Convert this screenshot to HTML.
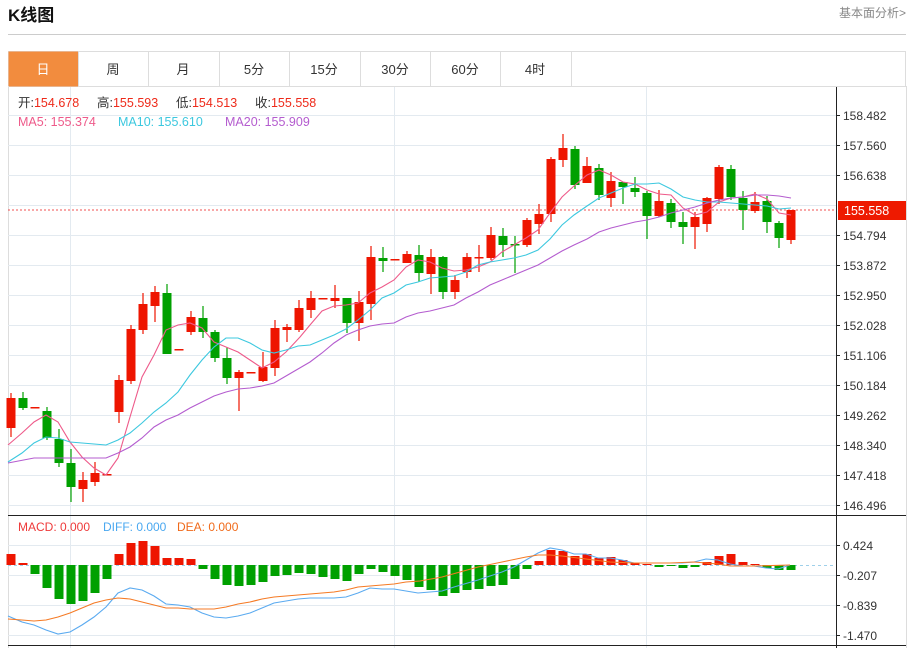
<!DOCTYPE html>
<html><head><meta charset="utf-8"><style>
body{margin:0;background:#fff;width:912px;height:648px;overflow:hidden;font-family:"Liberation Sans","Noto Sans CJK SC",sans-serif}
</style></head><body>
<svg width="912" height="648" xmlns="http://www.w3.org/2000/svg" font-family="Liberation Sans, Noto Sans CJK SC, sans-serif">
<text x="8" y="21" font-size="17" font-weight="bold" fill="#111">K线图</text>
<text x="906" y="17" font-size="12" fill="#888" text-anchor="end">基本面分析&gt;</text>
<line x1="8" y1="34.5" x2="906" y2="34.5" stroke="#ccc" stroke-width="1"/>
<rect x="8.5" y="51.5" width="897" height="35" fill="#fff" stroke="#ddd"/>
<rect x="8.5" y="51.5" width="69.5" height="35" fill="#f28c3e"/>
<g stroke="#ddd"><line x1="148.5" y1="51" x2="148.5" y2="86"/><line x1="219.5" y1="51" x2="219.5" y2="86"/><line x1="289.5" y1="51" x2="289.5" y2="86"/><line x1="360.5" y1="51" x2="360.5" y2="86"/><line x1="430.5" y1="51" x2="430.5" y2="86"/><line x1="500.5" y1="51" x2="500.5" y2="86"/><line x1="571.5" y1="51" x2="571.5" y2="86"/><line x1="78.5" y1="51" x2="78.5" y2="86"/></g>
<g font-size="13" text-anchor="middle" fill="#333">
<text x="43" y="74" fill="#fff">日</text><text x="113" y="74">周</text><text x="183" y="74">月</text><text x="254" y="74">5分</text><text x="324" y="74">15分</text><text x="395" y="74">30分</text><text x="465" y="74">60分</text><text x="535" y="74">4时</text></g>
<line x1="8.5" y1="86" x2="8.5" y2="648" stroke="#ddd"/>
<line x1="906.5" y1="86" x2="906.5" y2="648" stroke="#ddd"/>
<g stroke="#e3eaf0" stroke-width="1">
<line x1="8" y1="115.5" x2="836" y2="115.5"/><line x1="8" y1="145.5" x2="836" y2="145.5"/><line x1="8" y1="175.5" x2="836" y2="175.5"/><line x1="8" y1="205.5" x2="836" y2="205.5"/><line x1="8" y1="235.5" x2="836" y2="235.5"/><line x1="8" y1="265.5" x2="836" y2="265.5"/><line x1="8" y1="295.5" x2="836" y2="295.5"/><line x1="8" y1="325.5" x2="836" y2="325.5"/><line x1="8" y1="355.5" x2="836" y2="355.5"/><line x1="8" y1="385.5" x2="836" y2="385.5"/><line x1="8" y1="415.5" x2="836" y2="415.5"/><line x1="8" y1="445.5" x2="836" y2="445.5"/><line x1="8" y1="475.5" x2="836" y2="475.5"/><line x1="8" y1="505.5" x2="836" y2="505.5"/>
<line x1="8" y1="545.5" x2="836" y2="545.5"/><line x1="8" y1="575.5" x2="836" y2="575.5"/><line x1="8" y1="605.5" x2="836" y2="605.5"/><line x1="8" y1="635.5" x2="836" y2="635.5"/>
<line x1="70.5" y1="87" x2="70.5" y2="648"/><line x1="394.5" y1="87" x2="394.5" y2="648"/><line x1="646.5" y1="87" x2="646.5" y2="648"/>
</g>
<line x1="8" y1="515.5" x2="906" y2="515.5" stroke="#222"/>
<line x1="8" y1="645.5" x2="906" y2="645.5" stroke="#222"/>
<line x1="836.5" y1="87" x2="836.5" y2="648" stroke="#222"/>
<g font-size="12.5">
<text x="18" y="107" fill="#333">开:<tspan fill="#ee2a1a">154.678</tspan></text>
<text x="97" y="107" fill="#333">高:<tspan fill="#ee2a1a">155.593</tspan></text>
<text x="176" y="107" fill="#333">低:<tspan fill="#ee2a1a">154.513</tspan></text>
<text x="255" y="107" fill="#333">收:<tspan fill="#ee2a1a">155.558</tspan></text>
<text x="18" y="126" fill="#ee5a8a">MA5: 155.374</text>
<text x="118" y="126" fill="#3cc8df">MA10: 155.610</text>
<text x="225" y="126" fill="#b45ccf">MA20: 155.909</text>
</g>
<g font-size="12" fill="#333"><g stroke="#222"><line x1="836" y1="115.5" x2="840" y2="115.5"/><line x1="836" y1="145.5" x2="840" y2="145.5"/><line x1="836" y1="175.5" x2="840" y2="175.5"/><line x1="836" y1="235.5" x2="840" y2="235.5"/><line x1="836" y1="265.5" x2="840" y2="265.5"/><line x1="836" y1="295.5" x2="840" y2="295.5"/><line x1="836" y1="325.5" x2="840" y2="325.5"/><line x1="836" y1="355.5" x2="840" y2="355.5"/><line x1="836" y1="385.5" x2="840" y2="385.5"/><line x1="836" y1="415.5" x2="840" y2="415.5"/><line x1="836" y1="445.5" x2="840" y2="445.5"/><line x1="836" y1="475.5" x2="840" y2="475.5"/><line x1="836" y1="505.5" x2="840" y2="505.5"/><line x1="836" y1="545.5" x2="840" y2="545.5"/><line x1="836" y1="575.5" x2="840" y2="575.5"/><line x1="836" y1="605.5" x2="840" y2="605.5"/><line x1="836" y1="635.5" x2="840" y2="635.5"/></g>
<text x="843" y="120">158.482</text><text x="843" y="150">157.560</text><text x="843" y="180">156.638</text><text x="843" y="210">155.716</text><text x="843" y="240">154.794</text><text x="843" y="270">153.872</text><text x="843" y="300">152.950</text><text x="843" y="330">152.028</text><text x="843" y="360">151.106</text><text x="843" y="390">150.184</text><text x="843" y="420">149.262</text><text x="843" y="450">148.340</text><text x="843" y="480">147.418</text><text x="843" y="510">146.496</text>
<text x="843" y="550">0.424</text><text x="843" y="580">-0.207</text><text x="843" y="610">-0.839</text><text x="843" y="640">-1.470</text></g>
<line x1="8" y1="210" x2="836" y2="210" stroke="#f05050" stroke-width="1" stroke-dasharray="2,2"/>
<rect x="838" y="201" width="68" height="19" fill="#ee1a00"/>
<text x="844" y="215" font-size="12.5" fill="#fff">155.558</text>
<g id="c"></g>
<g fill="none" stroke-width="1.1">
<polyline stroke="#ee5a8a" points="8,445 22,433 34,422 46,415 58,422 70,442 82,457 94,468 106,475 118,458 130,417 142,377 154,355 166,330 178,325 190,323 202,328 214,342 226,347 238,352 250,360 262,368 274,362 286,352 300,337 310,325 322,311 334,306 346,305 358,303 370,293 382,287 394,280 406,267 418,260 430,262 442,268 454,271 466,270 478,267 490,262 502,252 514,245 526,238 538,230 550,213 562,197 574,186 587,175 599,170 611,175 623,182 635,184 647,190 659,194 671,195 683,208 695,215 707,212 719,202 731,198 743,197 755,194 767,199 779,213 791,215"/>
<polyline stroke="#3cc8df" points="8,462 22,453 34,443 46,437 58,438 70,442 82,443 94,444 106,445 118,440 130,433 142,423 154,412 166,403 178,392 190,375 202,360 214,347 226,338 238,338 250,343 262,350 274,353 286,350 298,346 310,345 322,340 334,335 346,329 358,320 370,310 382,298 394,293 406,285 418,282 430,278 442,277 454,276 466,272 478,265 490,262 502,260 514,258 526,255 538,250 550,239 562,225 574,215 587,206 599,198 611,193 623,188 635,184 647,184 659,183 671,189 683,197 695,200 707,202 719,202 731,203 743,204 755,205 767,206 779,209 791,208"/>
<polyline stroke="#b45ccf" points="8,463 34,458 70,458 106,458 118,453 130,447 142,438 154,427 166,420 178,415 190,408 202,402 214,396 226,392 238,389 250,388 262,386 274,383 286,376 298,369 310,362 322,353 334,343 346,335 358,330 370,326 382,324 394,323 406,317 418,313 430,311 442,308 454,305 466,298 478,292 490,285 502,280 514,275 526,270 538,265 550,258 562,251 574,245 587,239 599,232 611,228 623,225 635,222 647,220 659,217 671,213 683,210 695,207 707,203 719,200 731,198 743,197 755,195 767,195 779,196 791,198"/>
</g>
<line x1="8" y1="565.5" x2="836" y2="565.5" stroke="#9fd0ea" stroke-dasharray="3,3"/>
<g id="m"></g>
<g fill="none" stroke-width="1.1">
<polyline stroke="#5aaaf0" points="8,616 22,622 34,625 46,630 58,634 70,632 82,625 94,617 106,607 118,593 130,588 142,590 154,596 166,604 178,605 190,607 202,613 214,617 226,618 238,616 250,613 262,608 274,603 286,601 298,599 310,598 322,598 334,598 346,597 358,593 370,588 382,589 394,589 406,591 418,593 442,591 454,587 478,580 502,572 514,567 526,560 538,553 550,548 562,550 574,554 586,554 598,558 610,558 622,560 634,563 646,563 670,563 682,563 694,562 706,559 718,560 730,564 742,566 754,566 766,568 778,569 790,565"/>
<polyline stroke="#f57a24" points="8,619 22,620 34,621 46,620 58,617 70,613 82,608 94,603 106,600 118,598 130,599 142,602 154,605 166,608 178,608 190,609 202,609 214,609 226,607 238,604 250,602 262,599 274,597 286,596 298,595 310,594 322,593 334,592 346,590 358,587 370,586 382,585 394,584 406,582 420,581 442,577 478,567 502,562 526,557 538,555 550,555 562,556 586,559 610,562 634,563 670,563 694,562 718,564 730,566 754,566 790,565"/>
</g>
<g font-size="12">
<text x="18" y="531" fill="#ee3a3a">MACD: 0.000</text>
<text x="103" y="531" fill="#4aa8f0">DIFF: 0.000</text>
<text x="177" y="531" fill="#f06a1a">DEA: 0.000</text>
</g>
</svg>
<script>
var R="#ee1500",G="#00a000";
var C=[[R,393,437,398,428],[G,392,410,398,408],[R,407,407,407,408],[G,407,440,411,438],[G,429,467,439,463],[G,449,502,463,487],[R,472,502,480,489],[R,462,486,473,482],[R,474,474,474,475],[R,375,423,380,412],[R,325,384,329,381],[R,293,334,304,330],[R,286,322,292,306],[G,284,354,293,354],[R,349,349,349,350],[R,311,335,317,332],[G,306,338,318,332],[G,330,362,332,358],[G,347,384,358,378],[R,370,411,372,378],[R,372,372,372,373],[R,352,382,367,381],[R,320,376,328,368],[R,324,342,327,330],[R,300,332,308,330],[R,291,318,298,310],[R,298,298,298,299],[R,285,308,298,301],[G,298,333,298,323],[R,291,341,302,323],[R,246,320,257,304],[G,247,272,258,261],[R,259,259,259,260],[R,251,263,254,263],[G,245,282,255,273],[R,249,294,257,274],[G,256,299,257,292],[R,275,299,280,292],[R,253,278,257,272],[R,245,272,257,258],[R,227,260,235,258],[G,228,257,236,245],[G,236,273,244,245],[R,218,247,220,245],[R,204,234,214,224],[R,157,222,159,214],[R,134,167,148,160],[G,146,189,149,185],[R,157,183,166,183],[G,164,200,168,195],[R,172,207,181,198],[G,182,204,182,187],[G,177,197,188,192],[G,191,239,193,216],[R,190,217,201,216],[G,199,228,203,222],[G,212,244,222,227],[R,212,249,217,227],[R,197,232,198,224],[R,165,204,167,199],[G,165,200,169,197],[G,191,230,198,210],[R,192,213,202,211],[G,196,233,201,222],[G,221,248,223,238],[R,210,244,210,240]];
var M=[554,563,574,588,599,604,601,593,579,554,543,541,546,558,558,559,569,579,585,586,585,582,576,575,573,574,577,579,581,574,569,572,576,580,587,590,596,593,590,589,586,585,579,569,561,550,551,556,554,558,557,560,563,564,567,566,568,567,562,556,554,562,564,568,570,570];
var s="",m="";
C.forEach(function(c,i){var x=11+12*i;var h=Math.max(c[4]-c[3],1.5);
s+='<line x1="'+x+'" x2="'+x+'" y1="'+c[1]+'" y2="'+c[2]+'" stroke="'+c[0]+'" stroke-width="1.2"/><rect x="'+(x-4.5)+'" y="'+c[3]+'" width="9" height="'+h+'" fill="'+c[0]+'"/>';
var v=M[i],col=v<565?R:G;var y=Math.min(v,565),hh=Math.max(Math.abs(v-565),1);
m+='<rect x="'+(x-4.5)+'" y="'+y+'" width="9" height="'+hh+'" fill="'+col+'"/>';});
document.getElementById("c").innerHTML=s;document.getElementById("m").innerHTML=m;
</script>
</body></html>
